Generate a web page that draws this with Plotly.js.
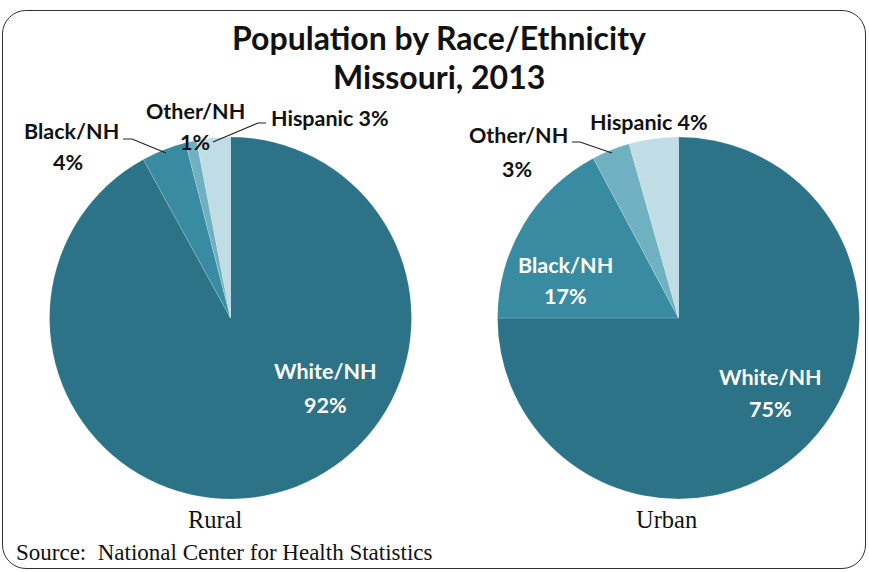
<!DOCTYPE html>
<html>
<head>
<meta charset="utf-8">
<script src="https://cdn.plot.ly/plotly-3.0.1.min.js"></script>
<style>
html,body{margin:0;padding:0;background:#fff;}
#wrap{position:relative;width:869px;height:572px;}
#chart{width:869px;height:572px;}
#frame{position:absolute;left:2px;top:10px;width:862px;height:557px;border:1.5px solid #333;border-radius:24px;pointer-events:none;}
</style>
</head>
<body>
<div id="wrap"><div id="chart"></div><div id="frame"></div></div>
<script>
const categories = ['White/NH', 'Black/NH', 'Other/NH', 'Hispanic'];
// slice sizes as drawn (percent)
const ruralValues = [92, 4, 1, 3];
const urbanValues = [75, 17.2, 3.4, 4.4];
// percentages as printed on the labels
const ruralLabels = [92, 4, 1, 3];
const urbanLabels = [75, 17, 3, 4];
const groupNames = ['Rural', 'Urban'];
const titleLines = ['Population by Race/Ethnicity', 'Missouri, 2013'];
const sourceText = 'Source:  National Center for Health Statistics';
const sliceColors = ['#2c7387', '#388ba0', '#70b1c1', '#c0dce4'];

const W = 869, H = 572;
const px = (x) => x / W;
const py = (y) => 1 - y / H;
const R = 181;

function dom(cx, cy) {
  return {x: [px(cx - R), px(cx + R)], y: [py(cy + R), py(cy - R)]};
}

function pie(values, cx, cy) {
  return {
    type: 'pie',
    labels: categories,
    values: values,
    sort: false,
    direction: 'clockwise',
    rotation: 0,
    textinfo: 'none',
    hoverinfo: 'label+percent',
    marker: {colors: sliceColors, line: {color: 'rgba(255,255,255,0.35)', width: 0.5}},
    domain: dom(cx, cy),
    showlegend: false
  };
}

const data = [pie(ruralValues, 230.5, 318), pie(urbanValues, 678.5, 318)];

const sans = 'Lato, "Open Sans", sans-serif';
const lblFont = {family: sans, size: 21.5, color: '#111', weight: 'bold'};
const inFont = {family: sans, size: 21.5, color: '#ffffff', weight: 'bold'};
const serifFont = {family: '"Liberation Serif", serif', size: 24.5, color: '#111'};

function ann(text, x, y, font, xanchor) {
  return {text: text, x: px(x), y: py(y), xref: 'paper', yref: 'paper', showarrow: false,
          xanchor: xanchor || 'center', yanchor: 'middle', font: font};
}

const annotations = [
  // title second line
  ann(titleLines[1], 439, 76, {family: sans, size: 32, color: '#111', weight: 'bold'}),
  // Rural
  ann(categories[0], 325, 371, inFont), ann(ruralLabels[0] + '%', 325, 405, inFont),
  ann(categories[1], 71, 131, lblFont), ann(ruralLabels[1] + '%', 68, 162, lblFont),
  ann(categories[2], 195, 111, lblFont), ann(ruralLabels[2] + '%', 195, 142, lblFont),
  ann(categories[3] + ' ' + ruralLabels[3] + '%', 330, 118, lblFont),
  // Urban
  ann(categories[0], 770, 377, inFont), ann(urbanLabels[0] + '%', 770, 409, inFont),
  ann(categories[1], 565, 265, inFont), ann(urbanLabels[1] + '%', 565, 296, inFont),
  ann(categories[2], 518, 135, lblFont), ann(urbanLabels[2] + '%', 517, 169, lblFont),
  ann(categories[3] + ' ' + urbanLabels[3] + '%', 649, 122, lblFont),
  // group names
  ann(groupNames[0], 215, 519, serifFont),
  ann(groupNames[1], 666, 519, serifFont),
  ann(sourceText, 14, 552, {family: '"Liberation Serif", serif', size: 23, color: '#111'}, 'left')
];

function path(pts) {
  return pts.map((p, i) => (i ? 'L' : 'M') + px(p[0]).toFixed(5) + ',' + py(p[1]).toFixed(5)).join(' ');
}
const lineStyle = {color: '#222', width: 1.2};
const shapes = [
  {type: 'path', xref: 'paper', yref: 'paper', path: path([[123, 139], [132, 139], [166, 153]]), line: lineStyle},
  {type: 'path', xref: 'paper', yref: 'paper', path: path([[266, 123], [258, 123], [213, 142]]), line: lineStyle},
  {type: 'path', xref: 'paper', yref: 'paper', path: path([[572, 142], [580, 142], [612, 153]]), line: lineStyle}
];

const layout = {
  width: W, height: H,
  margin: {l: 0, r: 0, t: 0, b: 0},
  paper_bgcolor: '#ffffff',
  title: {text: titleLines[0], x: px(439), xanchor: 'center',
          y: py(39), yanchor: 'middle', yref: 'paper',
          font: {family: sans, size: 32, color: '#111', weight: 'bold'}},
  annotations: annotations,
  shapes: shapes
};

Plotly.newPlot('chart', data, layout, {displayModeBar: false, staticPlot: true});
</script>
</body>
</html>
